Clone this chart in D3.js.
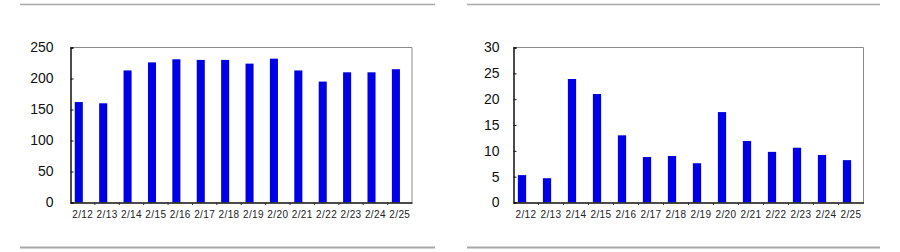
<!DOCTYPE html>
<html>
<head>
<meta charset="utf-8">
<script src="https://cdn.jsdelivr.net/npm/d3@7"></script>
<style>
  body { margin: 0; background: #fff; }
  svg { display: block; font-family: "Liberation Sans", Arial, sans-serif; }
</style>
</head>
<body>
<div id="chart"></div>
<script>
// dates shared by both charts
var dates = ['2/12','2/13','2/14','2/15','2/16','2/17','2/18','2/19','2/20','2/21','2/22','2/23','2/24','2/25'];
// left chart values
var leftValues = [162, 160, 213, 226, 231, 230, 230, 224, 232, 213, 195, 210, 210, 215];
var leftTicks = [0, 50, 100, 150, 200, 250];
// right chart values
var rightValues = [5.3, 4.7, 23.9, 21.0, 13.0, 8.8, 9.0, 7.6, 17.5, 11.9, 9.8, 10.6, 9.2, 8.2];
var rightTicks = [0, 5, 10, 15, 20, 25, 30];

var w = 900;
var h = 252;

var svg = d3.select('#chart').append('svg')
  .attr('width', w)
  .attr('height', h);

// gray separator lines above and below each chart
function separators(x0, x1) {
  svg.append('line')
    .attr('x1', x0).attr('x2', x1).attr('y1', 4.5).attr('y2', 4.5)
    .attr('stroke', '#a8a8a8').attr('stroke-width', 1.5);
  svg.append('line')
    .attr('x1', x0).attr('x2', x1).attr('y1', 247.5).attr('y2', 247.5)
    .attr('stroke', '#a8a8a8').attr('stroke-width', 2);
}

function drawChart(opts) {
  var x = d3.scaleBand()
    .domain(dates)
    .range([opts.left, opts.right]);
  var y = d3.scaleLinear()
    .domain([0, opts.max])
    .range([202.5, 47.5]);

  var g = svg.append('g');

  // frame top / right (gray)
  g.append('path')
    .attr('d', 'M' + opts.left + ',' + y(opts.max) + 'H' + opts.right + 'V' + y(0))
    .attr('fill', 'none')
    .attr('stroke', '#8a8a8a')
    .attr('stroke-width', 1);

  // bars (sit a bit left of the band centre, like the original)
  g.selectAll('rect')
    .data(opts.values)
    .enter().append('rect')
    .attr('x', function(d, i) { return x(dates[i]) + x.bandwidth() * 0.175; })
    .attr('width', x.bandwidth() * 0.33)
    .attr('y', function(d) { return y(d); })
    .attr('height', function(d) { return y(0) - y(d); })
    .attr('fill', '#0000e6');

  // y axis
  var yAxis = d3.axisLeft(y)
    .tickValues(opts.ticks)
    .tickSize(-3)
    .tickPadding(opts.pad);
  var ya = g.append('g')
    .attr('transform', 'translate(' + opts.left + ',0)')
    .call(yAxis);
  ya.select('.domain').attr('stroke', '#111').attr('stroke-width', 1.5);
  ya.selectAll('.tick line').attr('stroke', '#111');
  ya.selectAll('text')
    .attr('font-size', 14)
    .attr('fill', '#111')
    .attr('font-family', '"Liberation Sans", Arial, sans-serif');

  // x axis
  var xAxis = d3.axisBottom(x)
    .tickSize(0)
    .tickPadding(8);
  var xa = g.append('g')
    .attr('transform', 'translate(0,' + y(0) + ')')
    .call(xAxis);
  xa.select('.domain').attr('stroke', '#111').attr('stroke-width', 1.5);
  xa.selectAll('text')
    .attr('font-size', 10)
    .attr('letter-spacing', 0.4)
    .attr('fill', '#222')
    .attr('font-family', '"Liberation Sans", Arial, sans-serif');

  // small ticks between categories
  g.selectAll('.sep')
    .data(dates.slice(1))
    .enter().append('line')
    .attr('x1', function(d) { return x(d); })
    .attr('x2', function(d) { return x(d); })
    .attr('y1', y(0))
    .attr('y2', y(0) + 2.5)
    .attr('stroke', '#333');
}

separators(20, 435);
separators(467, 880);

drawChart({ left: 70.5, right: 412, max: 250, values: leftValues, ticks: leftTicks, pad: 17 });
drawChart({ left: 513.5, right: 863.5, max: 30, values: rightValues, ticks: rightTicks, pad: 14 });
</script>
</body>
</html>
